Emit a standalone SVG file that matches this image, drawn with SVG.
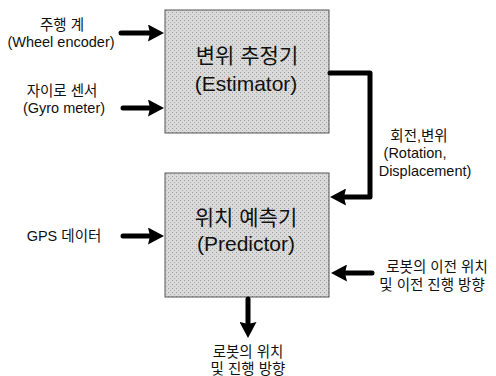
<svg xmlns="http://www.w3.org/2000/svg" width="496" height="376" viewBox="0 0 496 376">
<style>
text{font-family:"Liberation Sans","Noto Sans CJK KR",sans-serif;fill:#111;text-anchor:middle}
.lbl{font-size:14.5px}
.ttl{font-size:21px}
.box{stroke:#555;stroke-width:1;fill:url(#dots)}
.arr{fill:none;stroke:#000;stroke-width:5;stroke-linecap:round;stroke-linejoin:round;marker-end:url(#ah)}
</style>
<defs>
<pattern id="dots" width="4" height="4" patternUnits="userSpaceOnUse">
<rect width="4" height="4" fill="#dadada"/>
<rect x="0" y="0" width="1" height="1" fill="#9a9a9a"/>
<rect x="2" y="2" width="1" height="1" fill="#b0b0b0"/>
</pattern>
<marker id="ah" viewBox="0 0 16 17" refX="6" refY="8.5" markerWidth="16" markerHeight="17" markerUnits="userSpaceOnUse" orient="auto">
<path d="M0,0 L16,8.5 L0,17 L2,8.5 Z" fill="#000"/>
</marker>
</defs>
<g id="estimator">
<rect class="box" x="165" y="10" width="164" height="123"/>
<text class="ttl" x="247" y="63">변위 추정기</text>
<text class="ttl" x="246" y="91">(Estimator)</text>
</g>
<g id="predictor">
<rect class="box" x="165" y="173" width="164" height="124"/>
<text class="ttl" x="246" y="225">위치 예측기</text>
<text class="ttl" x="246" y="251">(Predictor)</text>
</g>
<g id="wheel">
<text class="lbl" x="62" y="30">주행 계</text>
<text class="lbl" x="61" y="47">(Wheel encoder)</text>
</g>
<g id="gyro">
<text class="lbl" x="62" y="96">자이로 센서</text>
<text class="lbl" x="64" y="113">(Gyro meter)</text>
</g>
<g id="gps">
<text class="lbl" x="64" y="241">GPS 데이터</text>
</g>
<g id="prev">
<text class="lbl" x="437" y="272">로봇의 이전 위치</text>
<text class="lbl" x="432" y="290">및 이전 진행 방향</text>
</g>
<g id="output">
<text class="lbl" x="248" y="357">로봇의 위치</text>
<text class="lbl" x="248" y="374">및 진행 방향</text>
</g>
<g id="connectors">
<path class="arr" d="M121,33 H154"/>
<path class="arr" d="M123,108 H154"/>
<path class="arr" d="M123,236 H154"/>
<path class="arr" d="M372,273 H341"/>
<path class="arr" d="M248,299 V328"/>
<path class="arr" d="M330,73 H370 V197 H340"/>
<text class="lbl" x="419" y="141">회전,변위</text>
<text class="lbl" x="415" y="158">(Rotation,</text>
<text class="lbl" x="425" y="176">Displacement)</text>
</g>
</svg>
